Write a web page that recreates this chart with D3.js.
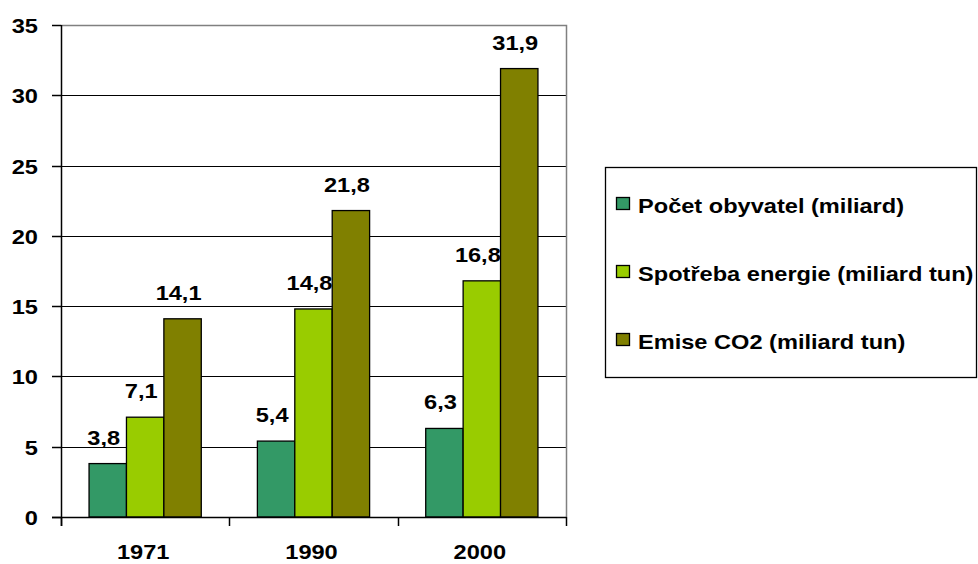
<!DOCTYPE html>
<html>
<head>
<meta charset="utf-8">
<script src="https://cdn.jsdelivr.net/npm/d3@7"></script>
<style>
  html, body { margin: 0; padding: 0; background: #fff; }
  svg text { font-family: "Liberation Sans", Arial, sans-serif; font-weight: bold; fill: #000; }
</style>
</head>
<body>
<svg id="chart" width="978" height="564"></svg>
<script>
// Years on the category axis
const years = ["1971", "1990", "2000"];
// Series names (legend)
const seriesNames = [
  "Počet obyvatel (miliard)",
  "Spotřeba energie (miliard tun)",
  "Emise CO2 (miliard tun)"
];
const seriesColors = ["#339966", "#99CC00", "#808000"];
// Values per series, one per year
const population = [3.8, 5.4, 6.3];
const energy = [7.1, 14.8, 16.8];
const co2 = [14.1, 21.8, 31.9];
const yTicks = [0, 5, 10, 15, 20, 25, 30, 35];

const seriesValues = [population, energy, co2];
const fmt = v => d3.format(".1f")(v).replace(".", ",");

const svg = d3.select("#chart");
const plot = { left: 61, right: 566, top: 25, bottom: 517 };
const stretch = 1.18;   // wide lettering

const x0 = d3.scaleBand().domain(years).range([plot.left, plot.right]);
const bw = x0.bandwidth();
const x1 = d3.scaleBand().domain(d3.range(seriesNames.length)).range([bw / 6, bw * 5 / 6]);
const y = d3.scaleLinear().domain([0, 35]).range([plot.bottom, plot.top]);

function label(g, x, yy, txt, anchor) {
  g.append("text")
    .attr("transform", `translate(${x},${yy}) scale(${stretch},1)`)
    .attr("text-anchor", anchor)
    .attr("font-size", 20)
    .text(txt);
}

// Horizontal gridlines
svg.append("g").selectAll("line")
  .data(yTicks.filter(t => t > 0 && t < 35))
  .join("line")
  .attr("x1", plot.left).attr("x2", plot.right)
  .attr("y1", d => Math.round(y(d)) + 0.5).attr("y2", d => Math.round(y(d)) + 0.5)
  .attr("stroke", "#000").attr("stroke-width", 1);

// Plot frame: grey top and right edges
svg.append("path")
  .attr("d", `M${plot.left},${Math.round(y(35)) + 0.5}H${plot.right + 0.5}V${plot.bottom}`)
  .attr("fill", "none").attr("stroke", "#808080").attr("stroke-width", 1.5);

// Bars
const groups = svg.append("g").selectAll("g")
  .data(years)
  .join("g")
  .attr("transform", d => `translate(${x0(d)},0)`);

groups.selectAll("rect")
  .data((d, i) => seriesValues.map((vals, s) => ({ s, v: vals[i] })))
  .join("rect")
  .attr("x", d => x1(d.s))
  .attr("width", x1.bandwidth())
  .attr("y", d => y(d.v))
  .attr("height", d => y(0) - y(d.v))
  .attr("fill", d => seriesColors[d.s])
  .attr("stroke", "#000").attr("stroke-width", 1.3);

// Value labels
groups.each(function (yr, i) {
  const g = d3.select(this);
  seriesValues.forEach((vals, s) => {
    label(g, x1(s) + x1.bandwidth() / 2 - 4, y(vals[i]) - 19, fmt(vals[i]), "middle");
  });
});

// Axes lines
svg.append("line")
  .attr("x1", plot.left + 0.5).attr("x2", plot.left + 0.5)
  .attr("y1", plot.top).attr("y2", plot.bottom + 9)
  .attr("stroke", "#000").attr("stroke-width", 1.5);
svg.append("line")
  .attr("x1", plot.left - 9).attr("x2", plot.right + 0.5)
  .attr("y1", plot.bottom + 0.5).attr("y2", plot.bottom + 0.5)
  .attr("stroke", "#000").attr("stroke-width", 1.5);

// Y ticks and labels
const yAxis = svg.append("g");
yTicks.forEach(t => {
  const yy = Math.round(y(t)) + 0.5;
  yAxis.append("line")
    .attr("x1", plot.left - 9).attr("x2", plot.left)
    .attr("y1", yy).attr("y2", yy)
    .attr("stroke", "#000").attr("stroke-width", 1.5);
  label(yAxis, 38, yy + 7, String(t), "end");
});

// X ticks at category boundaries and year labels
const xAxis = svg.append("g");
const bounds = years.map(d => x0(d)).concat([plot.right]);
bounds.forEach(bx => {
  xAxis.append("line")
    .attr("x1", Math.round(bx) + 0.5).attr("x2", Math.round(bx) + 0.5)
    .attr("y1", plot.bottom).attr("y2", plot.bottom + 9)
    .attr("stroke", "#000").attr("stroke-width", 1.5);
});
years.forEach(d => label(xAxis, x0(d) + bw / 2 - 2, 559, d, "middle"));

// Legend
const legend = svg.append("g");
legend.append("rect")
  .attr("x", 605.5).attr("y", 167.5).attr("width", 371).attr("height", 210)
  .attr("fill", "#fff").attr("stroke", "#000").attr("stroke-width", 1.3);
seriesNames.forEach((name, i) => {
  const base = 213 + i * 68;
  legend.append("rect")
    .attr("x", 616.5).attr("y", base - 15.5).attr("width", 13).attr("height", 12)
    .attr("fill", seriesColors[i]).attr("stroke", "#000").attr("stroke-width", 1.3);
  label(legend, 638, base, name, "start");
});
</script>
</body>
</html>
